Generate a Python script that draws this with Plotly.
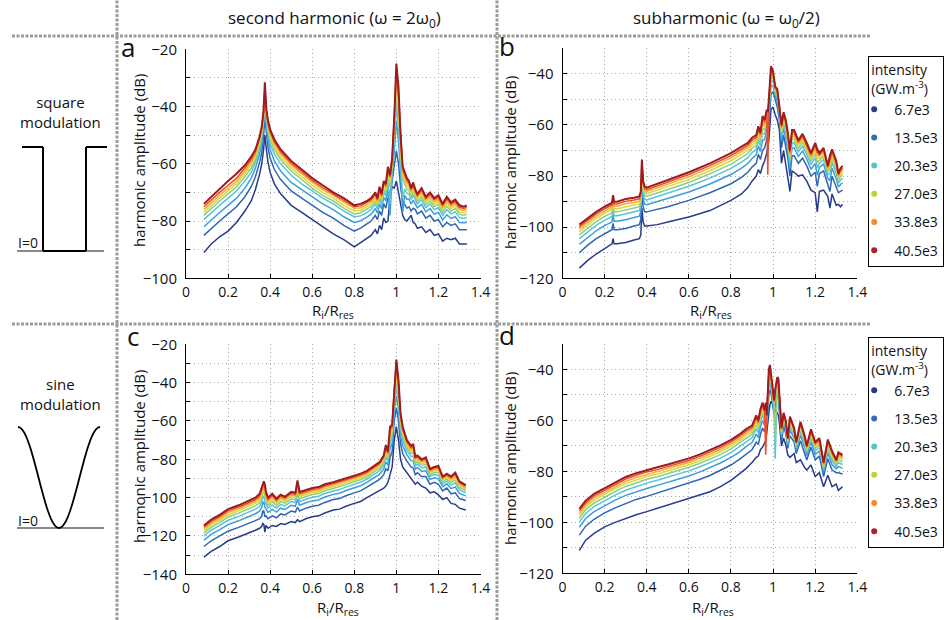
import math
import plotly.graph_objects as go

W, H = 950, 620

# ---------------- data ----------------
LEGEND_LABELS = ["6.7e3", "13.5e3", "20.3e3", "27.0e3", "33.8e3", "40.5e3"]
LEGEND_COLORS = ["#283a8e", "#3a6bb5", "#55c3d0", "#bcd433", "#f48a2c", "#b11f24"]
LINE_COLORS = ["#273b8c", "#2f66b3", "#3b9ddb", "#5cc3d6", "#93cb86",
               "#d3dc3a", "#f8ac2e", "#ec4b27", "#9e1b1f"]

X_TICKS = [0, 0.2, 0.4, 0.6, 0.8, 1.0, 1.2, 1.4]
X_TICK_TEXT = ["0", "0.2", "0.4", "0.6", "0.8", "1", "1.2", "1.4"]
YT_A = [-100, -80, -60, -40, -20]
YT_B = [-120, -100, -80, -60, -40]
YT_C = [-140, -120, -100, -80, -60, -40, -20]
YT_D = [-120, -100, -80, -60, -40]

# panel a : second harmonic, square modulation
A_X = [0.085, 0.12, 0.16, 0.2, 0.24, 0.28, 0.31, 0.33, 0.35, 0.36, 0.368, 0.375, 0.382, 0.39, 0.40,
       0.42, 0.45, 0.5, 0.55, 0.6, 0.65, 0.7, 0.75, 0.8, 0.83, 0.86, 0.88, 0.9, 0.91, 0.92, 0.93,
       0.94, 0.95, 0.96, 0.97, 0.98, 0.99, 1.0, 1.01, 1.02, 1.03, 1.04, 1.05, 1.06, 1.07, 1.08,
       1.09, 1.10, 1.12, 1.14, 1.16, 1.18, 1.2, 1.22, 1.24, 1.26, 1.28, 1.3, 1.32, 1.335]
A1 = [-91, -88, -85.5, -83.5, -80.5, -76.5, -73, -69, -63.5, -60, -55.5, -50, -55, -59.5, -63, -67,
      -70.5, -74.5, -77, -79.5, -82, -84.5, -86.5, -89,
      -87.5, -86, -85, -83, -84.5, -81.5, -83, -79, -80.5, -80, -72, -68, -68.5, -66, -70, -75,
      -78, -79.5, -80, -79, -78, -80.5, -81, -82.5, -82, -84, -83, -85, -84.5, -87, -86, -86.5,
      -86, -88, -88, -88]
A2 = [-85, -82.5, -80, -77.5, -75, -71.5, -68, -64.5, -59.5, -56, -51, -44, -50, -54.5, -58, -62,
      -65.5, -69.5, -72, -74.5, -77, -79, -81.5, -83.5,
      -82.5, -81, -80, -78, -79.5, -76.5, -78, -74, -75.5, -72, -70, -66, -61, -55.5, -60, -68,
      -73, -74.5, -75.5, -75, -76.5, -75.5, -76, -77.5, -76.5, -79, -78, -80, -79.5, -82, -80.5,
      -81.5, -81, -83, -83, -83]
A3 = [-82, -79.5, -77, -74.5, -72, -68.5, -65, -61.5, -56.5, -53, -48, -41.5, -47, -51.5, -55, -59,
      -62.5, -66.5, -69, -71.5, -74, -76, -78.5, -80.5,
      -79.9, -78.6, -77.6, -75.6, -77.3, -74, -75.8, -71.6, -73, -68.7, -78, -63.6, -55.9, -45,
      -51.9, -62.6, -77, -71, -72.4, -72.3, -74.1, -72.8, -73.9, -75.4, -74.1, -76.8, -75.6,
      -77.6, -77, -79.6, -77.8, -79.1, -78.5, -80.5, -80.6, -80.5]
A4 = [-79.5, -77, -74.5, -72, -69.5, -66, -63, -59.5, -54.5, -51, -46, -39.5, -45, -49.5, -53,
      -56.5, -60, -64, -67, -69.5, -72, -74, -76.5, -78.5,
      -78.2, -77, -76, -74, -75.8, -72.3, -74.3, -70, -71.3, -66.5, -74, -62, -52.5, -40, -46.5,
      -59, -72, -68.8, -70.3, -70.5, -72.5, -71, -72.5, -74, -72.5, -75.3, -74, -76, -75.3, -78,
      -76, -77.5, -76.8, -78.8, -79, -78.8]
A5 = [-78, -75.5, -73, -70.5, -68, -64.5, -61.5, -58.5, -53.5, -50, -45, -38, -44, -48.5, -51.5,
      -55, -58.5, -62.5, -65.5, -68.5, -71, -73, -75.5, -77.5,
      -77.1, -76, -75, -73, -74.8, -71.1, -73.3, -69, -70.1, -65.1, -68, -61, -50.3, -37, -43,
      -56.7, -65.4, -67.3, -68.9, -69.3, -71.5, -69.8, -71.6, -73.1, -71.5, -74.3, -73, -75,
      -74.1, -77, -74.8, -76.5, -75.6, -77.6, -78, -77.6]
A6 = [-77, -74.5, -72, -69.5, -67, -63.5, -60.5, -57.5, -52.5, -49, -44, -36.5, -43, -47.5, -50.5,
      -54, -57.5, -61.5, -64.5, -67.5, -70, -72, -74.5, -76.5,
      -76.2, -75.1, -74.1, -72.1, -74, -70.2, -72.5, -68.1, -69.2, -63.9, -66, -60.1, -48.4, -33,
      -40, -54.7, -64.1, -66, -67.7, -68.3, -70.6, -68.8, -70.8, -72.3, -70.6, -73.5, -72.1,
      -74.1, -73.2, -76.1, -73.8, -75.6, -74.7, -76.7, -77.1, -76.7]
A7 = [-76, -73.5, -71, -68.5, -66, -62.5, -59.5, -56.5, -51.5, -48, -43.3, -35, -42.2, -46.5,
      -49.5, -53, -56.5, -60.5, -63.5, -66.5, -69, -71, -73.5, -75.5,
      -75.4, -74.3, -73.3, -71.3, -73.2, -69.4, -71.7, -67.3, -68.4, -62.8, -65, -59.3, -46.7,
      -30, -37.3, -52.9, -62.9, -64.8, -66.7, -67.4, -69.8, -67.9, -70.1, -71.6, -69.8, -72.7,
      -71.3, -73.3, -72.4, -75.3, -72.9, -74.8, -73.9, -75.9, -76.3, -75.9]
A8 = [-75, -72.5, -70, -67.5, -65, -61.5, -58.5, -55.8, -51, -47.5, -42.6, -33.5, -41.5, -45.8,
      -48.8, -52.3, -55.8, -59.8, -62.8, -65.8, -68.3, -70.5, -72.8, -75,
      -74.7, -73.6, -72.6, -70.6, -72.6, -68.7, -71.1, -66.6, -67.7, -61.9, -64.5, -58.6, -45.4,
      -27.5, -35.2, -51.4, -62, -63.9, -65.8, -66.7, -69.1, -67.2, -69.6, -71.1, -69.1, -72.1,
      -70.6, -72.6, -71.7, -74.6, -72.2, -74.1, -73.2, -75.2, -75.6, -75.2]
A9 = [-74, -71.5, -68.5, -66, -63.5, -60.5, -57.5, -55, -50.5, -47, -42, -31.5, -41, -45, -48,
      -51.5, -55, -59, -62, -65, -67.5, -70, -72, -74.5,
      -74, -73, -72, -70, -72, -68, -70.5, -66, -67, -61, -64, -58, -44, -25, -33, -50, -61, -63,
      -65, -66, -68.5, -66.5, -69, -70.5, -68.5, -71.5, -70, -72, -71, -74, -71.5, -73.5, -72.5,
      -74.5, -75, -74.5]

# panel b : subharmonic, square modulation
B_X = [0.08, 0.12, 0.16, 0.2, 0.225, 0.235, 0.24, 0.245, 0.26, 0.3, 0.34, 0.365, 0.372, 0.377,
       0.383, 0.39, 0.4, 0.45, 0.5, 0.6, 0.7, 0.8, 0.85, 0.88, 0.9, 0.92, 0.93, 0.94, 0.95, 0.96,
       0.97, 0.975, 0.98, 0.99, 1.0, 1.01, 1.02, 1.03, 1.04, 1.05, 1.06, 1.07, 1.08, 1.09, 1.1,
       1.12, 1.14, 1.16, 1.18, 1.2, 1.21, 1.22, 1.24, 1.26, 1.27, 1.28, 1.3, 1.31, 1.32, 1.33]
B1 = [-116, -113, -110.5, -108.5, -107, -106.5, -104.5, -106.5, -106.5, -106, -105, -104.5, -103,
      -92.5, -98, -99.5, -99.5, -99, -98, -96, -93.5, -89.5, -87, -84.5, -82, -80, -77.5, -79,
      -76, -74, -71, -69, -66, -54, -53, -56, -58, -62, -75, -70, -76, -80, -86, -78, -78.5, -80,
      -79.5, -82, -85.5, -86.5, -94, -86, -85.5, -88, -92.5, -87, -91.5, -91, -92, -91]
B2 = [-110, -107, -104.5, -102.5, -101.5, -101, -98.5, -101, -101, -100.5, -99.5, -99, -97, -85,
      -92, -94, -94, -93, -92, -89.5, -86.5, -83, -80.5, -78.5, -76.5, -75, -71.5, -73.5, -70,
      -69, -65, -64, -60, -48, -47, -50, -53, -58, -69, -64, -68, -73, -80, -72, -72, -75, -73,
      -76, -80, -78.5, -84, -79, -78, -83, -86, -80, -84, -86.5, -86, -85.5]
B3 = [-106.7, -103.9, -101.4, -99.4, -98.4, -97.9, -95.2, -97.7, -97.7, -97.1, -96.2, -95.7,
      -93.7, -81.6, -89, -91, -91.2, -90, -88.9, -86.2, -83.1, -79.4, -76.9, -75.1, -73.1, -71.7,
      -68.2, -70.4, -66, -65.7, -61.7, -61.3, -57, -44.7, -44.6, -48.5, -50.9, -56.2, -66.3,
      -61.3, -65, -70, -77, -69, -69, -72.3, -70.2, -73.3, -77.3, -75.1, -79.7, -76.6, -75.3,
      -80.9, -81.8, -76.9, -81, -84.3, -83.3, -82.7]
B4 = [-104.5, -101.8, -99.3, -97.3, -96.3, -95.8, -93, -95.5, -95.5, -94.8, -94, -93.5, -91.5,
      -79.3, -87, -89, -89.3, -88, -86.8, -84, -80.8, -77, -74.5, -72.8, -70.8, -69.5, -66, -68.3,
      -63.3, -63.5, -59.5, -59.5, -55, -42.5, -43, -47.5, -49.5, -55, -64.5, -59.5, -63, -68,
      -75, -67, -67, -70.5, -68.3, -71.5, -75.5, -72.8, -76.8, -75, -73.5, -79.5, -79, -74.8,
      -79, -82.8, -81.5, -80.8]
B5 = [-103, -100.3, -97.8, -95.8, -94.8, -94.3, -91.5, -94, -94, -93.1, -92.5, -92, -90, -77.6,
      -85.6, -87.6, -87.9, -86.6, -85.3, -82.5, -79.1, -75.3, -72.8, -71.1, -69.1, -68, -64.5,
      -66.8, -61.4, -62, -58, -58.2, -53.6, -41, -41.9, -46.8, -48.5, -54.2, -63.2, -58.2, -61.6,
      -66.6, -73.6, -65.6, -65.6, -69.2, -66.9, -70.2, -74.2, -71.1, -74.7, -73.9, -72.2, -78.5,
      -77, -73.3, -77.6, -81.7, -80.2, -79.4]
B6 = [-101.8, -99.1, -96.6, -94.6, -93.6, -93.1, -90.3, -92.8, -92.8, -91.9, -91.3, -90.8, -88.8,
      -76.4, -84.5, -86.5, -86.9, -85.5, -84.1, -81.3, -77.9, -74, -71.5, -69.9, -67.9, -66.8,
      -63.3, -65.6, -59.9, -60.8, -56.8, -57.3, -52.5, -39.8, -41, -46.3, -47.8, -53.5, -62.3,
      -57.3, -60.5, -65.5, -72.5, -64.5, -64.5, -68.3, -65.9, -69.3, -73.3, -69.9, -73.1, -73,
      -71.3, -77.8, -75.5, -72.1, -76.5, -80.9, -79.3, -78.4]
B7 = [-100.8, -98.2, -95.7, -93.7, -92.7, -92.2, -89.3, -91.8, -91.8, -90.8, -90.3, -89.8, -87.8,
      -75.3, -83.6, -85.6, -86, -84.6, -83.2, -80.3, -76.8, -72.9, -70.4, -68.8, -66.8, -65.8,
      -62.3, -64.7, -58.7, -59.8, -55.8, -56.4, -51.6, -38.8, -40.3, -45.8, -47.1, -53, -61.4,
      -56.4, -59.6, -64.6, -71.6, -63.6, -63.6, -67.4, -65, -68.4, -72.4, -68.8, -71.8, -72.3,
      -70.4, -77.1, -74.2, -71.2, -75.6, -80.2, -78.4, -77.5]
B8 = [-99.9, -97.3, -94.8, -92.8, -91.8, -91.3, -88.4, -90.9, -90.9, -89.9, -89.4, -88.9, -86.9,
      -74.4, -82.8, -84.8, -85.3, -83.8, -82.3, -79.4, -75.9, -72, -69.5, -67.9, -65.9, -64.9,
      -61.4, -63.8, -57.6, -58.9, -54.9, -79.5, -50.8, -37.9, -39.6, -45.4, -46.6, -52.5, -60.7,
      -55.7, -58.8, -63.8, -70.8, -62.8, -62.8, -66.7, -64.3, -67.7, -71.7, -67.9, -70.7, -71.6,
      -69.7, -76.6, -73.1, -70.3, -74.8, -79.6, -77.7, -76.8]
B9 = [-99, -96.5, -94, -92, -91, -90.5, -87.5, -90, -90, -89, -88.5, -88, -86, -73.5, -82, -84,
      -84.5, -83, -81.5, -78.5, -75, -71, -68.5, -67, -65, -64, -60.5, -63, -56.5, -58, -54, -55,
      -50, -37, -39, -45, -46, -52, -60, -55, -58, -63, -70, -62, -62, -66, -63.5, -67, -71, -67,
      -69.5, -71, -69, -76, -72, -69.5, -74, -79, -77, -76]

# panel c : second harmonic, sine modulation
C_X = [0.085, 0.12, 0.16, 0.2, 0.25, 0.3, 0.33, 0.35, 0.36, 0.365, 0.37, 0.375, 0.38, 0.39, 0.41,
       0.43, 0.45, 0.47, 0.5, 0.52, 0.53, 0.54, 0.57, 0.6, 0.63, 0.66, 0.7, 0.73, 0.76, 0.8, 0.83,
       0.86, 0.9, 0.92, 0.94, 0.95, 0.96, 0.97, 0.98, 0.99, 1.0, 1.01, 1.02, 1.03, 1.05, 1.07,
       1.08, 1.09, 1.1, 1.12, 1.14, 1.16, 1.18, 1.2, 1.22, 1.24, 1.26, 1.28, 1.3, 1.33]
C1 = [-131, -128, -125.5, -122.5, -120.5, -118.5, -117, -116, -115, -113.5, -114, -118, -114.5,
      -116, -114.5, -115, -113.5, -114, -112.5, -113, -111.5, -112.5, -111, -110, -109.5, -108,
      -106.5, -106, -104.5, -103, -102, -100, -97.5, -96.5, -95, -94, -92, -88, -84, -70, -63,
      -70, -80, -84, -87, -90, -91.5, -93, -92, -94, -95, -97.5, -97, -98.5, -101, -100, -103,
      -103.5, -105.5, -106.5]
C2 = [-125.5, -122.5, -120, -117.5, -115.5, -113.5, -112, -111, -109.5, -107, -107, -110, -109.5,
      -111, -109.5, -110.5, -108.5, -109, -107, -107.5, -105, -107, -105.5, -104.5, -104, -102.5,
      -101, -100.5, -99, -97.5, -96.5, -94.5, -92, -90.5, -88, -85, -86, -79, -76, -60, -53, -60,
      -72, -77, -81, -84, -84.5, -88, -87, -89, -89, -93, -92, -93, -96.5, -95, -98, -97.5,
      -100.5, -101.5]
C3 = [-122.2, -119.2, -116.7, -114.1, -112.1, -109.9, -108.4, -107.1, -105, -102.5, -102.4, -104.9,
      -105.8, -107.7, -106.1, -107.5, -105.5, -106.2, -104, -104.5, -100.8, -104, -102.7, -101.7,
      -101.2, -99.7, -98.3, -97.7, -96.3, -94.8, -93.8, -92, -89.3, -87.8, -85, -81.3, -83,
      -74.2, -71.8, -54.6, -47, -53.6, -67.2, -72.8, -77.7, -80.7, -80.8, -85.2, -84.3, -86.3,
      -86, -90.6, -89.6, -90.2, -94.3, -92.8, -95.3, -94.4, -97.8, -99.1]
C4 = [-120, -117, -114.5, -111.8, -109.8, -107.5, -106, -104.5, -102, -99.5, -99.3, -101.5, -103.3,
      -105.5, -103.8, -105.5, -103.5, -104.3, -102, -102.5, -98, -102, -100.8, -99.8, -99.3,
      -97.8, -96.5, -95.8, -94.5, -93, -92, -90.3, -87.5, -86, -83, -78.8, -81, -71, -69, -51,
      -43, -49.3, -64, -70, -75.5, -78.5, -78.3, -83.3, -82.5, -84.5, -84, -89, -88, -88.3,
      -92.8, -91.3, -93.5, -92.3, -96, -97.5]
C5 = [-118.5, -115.5, -113, -110.1, -108.1, -105.8, -104.3, -102.7, -99.9, -97.4, -97.1, -99.1,
      -101.5, -104, -102.1, -104.1, -102.1, -102.9, -100.6, -101.1, -96, -100.6, -99.4, -98.4,
      -97.9, -96.4, -95.2, -94.4, -93.2, -91.7, -90.7, -89.1, -86.2, -84.7, -81.6, -77, -79.6,
      -68.8, -67, -48.5, -40, -46.2, -61.8, -68, -74, -77, -76.5, -81.9, -81.2, -83.2, -82.6,
      -87.9, -86.9, -86.9, -91.7, -90.2, -92.2, -90.8, -94.7, -96.4]
C6 = [-117.3, -114.3, -111.8, -108.9, -106.9, -104.5, -103, -101.3, -98.3, -95.8, -95.4, -97.3,
      -100.1, -102.8, -100.9, -103, -101, -101.9, -99.5, -100, -94.5, -99.5, -98.4, -97.4, -96.9,
      -95.4, -94.3, -93.4, -92.3, -90.8, -89.8, -88.1, -85.3, -83.8, -80.5, -75.6, -78.5, -67,
      -65.5, -46.5, -37, -43.9, -60, -66.5, -72.8, -75.8, -75.1, -80.9, -80.3, -82.3, -81.5, -87,
      -86, -85.9, -90.9, -89.4, -91.3, -89.6, -93.8, -95.5]
C7 = [-116.3, -113.3, -110.8, -107.8, -105.8, -103.4, -101.9, -100.1, -96.9, -94.4, -94, -95.7,
      -99, -101.8, -99.8, -102.1, -100.1, -101, -98.6, -99.1, -93.2, -98.6, -97.5, -96.5, -96,
      -94.5, -93.4, -92.5, -91.4, -89.9, -88.9, -87.4, -84.4, -82.9, -79.6, -74.5, -77.6, -65.6,
      -64.2, -44.9, -34, -41.9, -58.6, -65.2, -71.8, -74.8, -74, -80, -79.4, -81.4, -80.6, -86.3,
      -85.3, -85, -90.2, -88.7, -90.4, -88.7, -92.9, -94.8]
C8 = [-115.4, -112.4, -109.9, -106.9, -104.9, -102.5, -101, -99, -95.7, -93.2, -92.7, -94.4, -98,
      -100.9, -98.9, -101.3, -99.3, -100.3, -97.8, -98.3, -92.1, -97.8, -96.8, -95.8, -95.3,
      -93.8, -92.7, -91.8, -90.7, -89.2, -88.2, -86.7, -83.7, -82.2, -78.8, -73.5, -76.8, -64.3,
      -63.1, -43.4, -31, -40.2, -57.3, -64.1, -70.9, -73.9, -73, -79.3, -78.7, -80.7, -79.8,
      -85.6, -84.6, -84.3, -89.6, -88.1, -89.7, -87.8, -92.2, -94.1]
C9 = [-114.5, -111.5, -109, -106, -104, -101.5, -100, -98, -94.5, -92, -91.5, -93, -97, -100, -98,
      -100.5, -98.5, -99.5, -97, -97.5, -91, -97, -96, -95, -94.5, -93, -92, -91, -90, -88.5,
      -87.5, -86, -83, -81.5, -78, -72.5, -76, -63, -62, -42, -28, -38.5, -56, -63, -70, -73, -72,
      -78.5, -78, -80, -79, -85, -84, -83.5, -89, -87.5, -89, -87, -91.5, -93.5]

# panel d : subharmonic, sine modulation
D_X = [0.08, 0.11, 0.15, 0.2, 0.25, 0.3, 0.35, 0.4, 0.45, 0.5, 0.55, 0.6, 0.65, 0.7, 0.75, 0.8,
       0.84, 0.87, 0.9, 0.92, 0.93, 0.94, 0.95, 0.96, 0.965, 0.97, 0.975, 0.98, 0.985, 0.99, 1.0,
       1.005, 1.01, 1.02, 1.025, 1.03, 1.04, 1.05, 1.06, 1.07, 1.08, 1.1, 1.11, 1.13, 1.15, 1.16,
       1.18, 1.2, 1.22, 1.24, 1.26, 1.28, 1.3, 1.31, 1.33]
D1 = [-111, -107, -104.3, -101.8, -100, -98.4, -97, -95.8, -94.5, -93.2, -91.8, -90.5, -89.3, -88,
      -86, -83.5, -81, -79, -76.5, -74.5, -74, -71.5, -70.5, -68.5, -68, -65, -60, -57, -54, -52.5,
      -54, -56, -56, -57, -58, -61, -70, -67, -69.5, -73.5, -74.5, -73, -76.5, -75.5, -78.5,
      -79.5, -77.5, -82, -80.5, -86, -81.5, -86, -85, -87.5, -86]
D2 = [-105, -101.5, -98.8, -96.3, -94.3, -92.5, -91, -89.8, -88.5, -87.3, -86, -84.7, -83.2,
      -81.6, -79.7, -77.5, -75.3, -73.3, -71.5, -68.5, -69.5, -65.5, -63, -64.5, -62, -63, -56,
      -50, -48, -49, -55, -58, -54, -50, -51, -56, -68, -62.5, -65, -71, -66, -68.5, -73, -68,
      -72.5, -75.5, -70.5, -75.5, -74, -82, -75, -79.5, -80.5, -80.5, -81]
D3 = [-101.9, -98.5, -95.8, -93.4, -91.3, -89.4, -87.9, -86.7, -85.5, -84.3, -83.1, -81.8, -80.3,
      -78.6, -76.7, -74.5, -72.4, -70.4, -68.7, -65.4, -66.7, -62.5, -60, -62, -59.3, -61.5,
      -53.6, -47, -45.1, -46.9, -53.5, -56.2, -52.2, -47.9, -48.8, -54.2, -66.5, -60.9, -63.5,
      -69.8, -63.8, -66.9, -71.7, -65.8, -70.6, -73.9, -68.4, -73.4, -71.9, -80.4, -72.8, -77.3,
      -79, -78.1, -78.8]
D4 = [-99.9, -96.5, -93.8, -91.5, -89.3, -87.4, -85.9, -84.6, -83.5, -82.3, -81.1, -79.8, -78.3,
      -76.7, -74.8, -72.6, -70.4, -68.4, -66.8, -63.3, -64.8, -60.5, -58, -60.3, -57.5, -60.5,
      -52, -45, -43.1, -45.5, -52.5, -55, -75, -46.5, -47.3, -53, -65.5, -59.8, -62.5, -69,
      -62.3, -65.8, -70.8, -64.3, -69.3, -72.8, -67, -72, -70.5, -79.3, -71.3, -75.8, -78, -76.5,
      -77.3]
D5 = [-98.4, -95.1, -92.4, -90.1, -87.9, -85.9, -84.4, -83.1, -82.1, -80.9, -79.7, -78.4, -76.9,
      -75.3, -73.4, -71.2, -69, -67, -65.4, -61.8, -63.4, -59.1, -56.6, -59.1, -56.2, -59.8,
      -50.9, -43.6, -41.7, -44.5, -51.8, -54.2, -68, -45.5, -46.2, -52.2, -64.8, -59, -61.8,
      -68.4, -61.2, -65, -70.1, -63.2, -68.3, -72, -66, -71, -69.5, -78.5, -70.2, -74.7, -77.3,
      -75.4, -76.2]
D6 = [-97.3, -94, -91.3, -89, -86.8, -84.8, -83.3, -82, -81, -79.8, -78.7, -77.4, -75.9, -74.2,
      -72.3, -70.1, -68, -66, -64.4, -60.6, -62.4, -58, -55.5, -58.1, -55.3, -59.3, -50, -42.5,
      -40.7, -43.8, -51.3, -53.5, -49.5, -44.8, -45.4, -51.5, -64.3, -58.4, -61.3, -68, -60.4,
      -64.4, -69.6, -62.4, -67.6, -71.4, -65.3, -70.3, -68.8, -77.9, -69.4, -73.9, -76.8, -74.5,
      -75.4]
D7 = [-96.4, -93.1, -90.4, -88.2, -85.9, -83.9, -82.4, -81.1, -80.1, -78.9, -77.8, -76.5, -75,
      -73.3, -71.4, -69.2, -67.1, -65.1, -63.5, -59.7, -61.5, -57.1, -54.6, -57.4, -54.4, -58.8,
      -49.3, -41.6, -39.8, -43.1, -50.8, -53, -49, -44.1, -44.7, -51, -63.8, -57.9, -60.8, -67.6,
      -59.7, -63.9, -69.2, -61.7, -67, -70.9, -64.6, -69.6, -68.1, -77.4, -68.7, -73.2, -76.3,
      -73.8, -74.7]
D8 = [-95.5, -92.3, -89.6, -87.4, -85.1, -83, -81.5, -80.2, -79.3, -78.1, -77, -75.7, -74.2,
      -72.5, -70.6, -68.4, -66.3, -64.3, -62.8, -58.8, -60.8, -56.3, -53.8, -56.7, -73.5, -58.4,
      -48.6, -40.8, -39, -42.6, -50.4, -52.5, -48.5, -43.6, -44.1, -50.5, -63.4, -57.4, -60.4,
      -67.3, -59.1, -63.4, -68.9, -61.1, -66.5, -70.4, -64.1, -69.1, -67.6, -76.9, -68.1, -72.6,
      -75.9, -73.1, -74.1]
D9 = [-94.7, -91.5, -88.8, -86.6, -84.2, -82.2, -80.7, -79.4, -78.4, -77.3, -76.2, -74.9, -73.4,
      -71.7, -69.8, -67.6, -65.5, -63.5, -62, -58, -60, -55.5, -53, -56, -53, -58, -48, -40, -38.2,
      -42, -50, -52, -48, -43, -43.5, -50, -63, -57, -60, -67, -58.5, -63, -68.5, -60.5, -66,
      -70, -63.5, -68.5, -67, -76.5, -67.5, -72, -75.5, -72.5, -73.5]

PANELS = [
    ("x", "y", A_X, [A1, A2, A3, A4, A5, A6, A7, A8, A9]),
    ("x2", "y2", B_X, [B1, B2, B3, B4, B5, B6, B7, B8, B9]),
    ("x3", "y3", C_X, [C1, C2, C3, C4, C5, C6, C7, C8, C9]),
    ("x4", "y4", D_X, [D1, D2, D3, D4, D5, D6, D7, D8, D9]),
]

# ---------------- figure ----------------
def px(x):
    return x / W


def py(y):
    return 1 - y / H


FONT = "Open Sans"
TXT = "#111"
GRID = "#a9a9a9"
GRID_DASH = "1px,3px"
fig = go.Figure()

for xa, ya, xs, series in PANELS:
    for i, ys in enumerate(series):
        assert len(ys) == len(xs), (xa, i, len(ys), len(xs))
        fig.add_trace(go.Scatter(
            x=xs, y=ys, mode="lines", xaxis=xa, yaxis=ya, showlegend=False,
            line=dict(color=LINE_COLORS[i], width=2.0 if i == 8 else 1.5),
            hoverinfo="skip"))

for lg, xa, ya in (("legend", "x2", "y2"), ("legend2", "x4", "y4")):
    for i, (lab, col) in enumerate(zip(LEGEND_LABELS, LEGEND_COLORS)):
        fig.add_trace(go.Scatter(
            x=[None], y=[None], mode="markers", xaxis=xa, yaxis=ya,
            marker=dict(color=col, size=6), name=lab, legend=lg,
            legendgroup=f"{lg}_{i}", showlegend=True))


def minus(v):
    return str(v).replace("-", "\u2212")


def xaxis(dom, anchor):
    return dict(
        domain=dom, anchor=anchor, range=[0, 1.4], tickmode="array",
        tickvals=X_TICKS, ticktext=X_TICK_TEXT,
        showline=True, linecolor="black", linewidth=1, mirror=False,
        ticks="inside", ticklen=4, tickcolor="black", zeroline=False,
        showgrid=True, gridcolor=GRID, griddash=GRID_DASH, gridwidth=1,
        tickfont=dict(size=14, family=FONT, color=TXT), ticklabelstandoff=1,
        automargin=False, fixedrange=True)


def yaxis(dom, anchor, rng, ticks):
    minor_vals = [t + 10 for t in ticks if t + 10 < rng[1] + 0.1]
    return dict(
        domain=dom, anchor=anchor, range=rng, tickmode="array",
        tickvals=ticks, ticktext=[minus(t) for t in ticks],
        showline=True, linecolor="black", linewidth=1, mirror=False,
        ticks="inside", ticklen=4, tickcolor="black", zeroline=False,
        showgrid=True, gridcolor=GRID, griddash=GRID_DASH, gridwidth=1,
        minor=dict(tickmode="array", tickvals=minor_vals, ticks="inside", ticklen=4,
                   tickcolor="black", showgrid=True, gridcolor=GRID,
                   griddash=GRID_DASH, gridwidth=1),
        tickfont=dict(size=15, family=FONT, color=TXT), ticklabelstandoff=5,
        automargin=False, fixedrange=True)


XA = [px(186), px(480.5)]
XB = [px(562.5), px(857.3)]
fig.update_layout(
    xaxis=xaxis(XA, "y"),
    yaxis=yaxis([py(278.3), py(49.3)], "x", [-100, -20], YT_A),
    xaxis2=xaxis(XB, "y2"),
    yaxis2=yaxis([py(278.3), py(48.3)], "x2", [-120, -30], YT_B),
    xaxis3=xaxis(XA, "y3"),
    yaxis3=yaxis([py(574.3), py(344.3)], "x3", [-140, -20], YT_C),
    xaxis4=xaxis(XB, "y4"),
    yaxis4=yaxis([py(573.3), py(344)], "x4", [-120, -30], YT_D),
)

legend_common = dict(
    xanchor="left", yanchor="top", bordercolor="black", borderwidth=1.2,
    bgcolor="white", font=dict(size=14, family=FONT, color=TXT),
    title=dict(text="intensity<br>(GW.m<sup>-3</sup>)", font=dict(size=14, family=FONT, color=TXT)),
    tracegroupgap=7, itemwidth=30, indentation=-15)
fig.update_layout(
    legend=dict(x=px(868), y=py(56), **legend_common),
    legend2=dict(x=px(868), y=py(337), **legend_common),
)

# separators
SEP = dict(color="#9c9c9c", width=3, dash="3px,1.5px")
shapes = [
    dict(type="line", xref="paper", yref="paper", x0=px(12), x1=px(870), y0=py(36), y1=py(36), line=SEP),
    dict(type="line", xref="paper", yref="paper", x0=px(12), x1=px(870), y0=py(324), y1=py(324), line=SEP),
    dict(type="line", xref="paper", yref="paper", x0=px(117), x1=px(117), y0=0, y1=1, line=SEP),
    dict(type="line", xref="paper", yref="paper", x0=px(497), x1=px(497), y0=0, y1=1, line=SEP),
]
# square modulation sketch
BLK = dict(color="black", width=2)
GRY = dict(color="#8a8a8a", width=2)
shapes.append(dict(type="line", xref="paper", yref="paper", x0=px(17), x1=px(104),
                   y0=py(251), y1=py(251), line=GRY))
sq = [(22, 147), (43, 147), (43, 251), (86, 251), (86, 147), (107, 147)]
for (x0, y0), (x1, y1) in zip(sq[:-1], sq[1:]):
    shapes.append(dict(type="line", xref="paper", yref="paper", x0=px(x0), x1=px(x1),
                       y0=py(y0), y1=py(y1), line=BLK))
# sine modulation sketch
shapes.append(dict(type="line", xref="paper", yref="paper", x0=px(17), x1=px(104),
                   y0=py(528), y1=py(528), line=GRY))
pts = []
for k in range(61):
    t = k / 60
    xx = 18 + 82 * t
    yy = 477.5 - 50.5 * math.cos(2 * math.pi * t)
    pts.append(f"{px(xx):.5f},{py(yy):.5f}")
shapes.append(dict(type="path", xref="paper", yref="paper",
                   path="M" + " L".join(pts), line=dict(color="black", width=1.8)))
fig.update_layout(shapes=shapes)


def ann(text, x, y, size, xanchor="center", yanchor="middle", angle=0):
    return dict(text=text, x=px(x), y=py(y), xref="paper", yref="paper", showarrow=False,
                xanchor=xanchor, yanchor=yanchor, textangle=angle,
                font=dict(size=size, family=FONT, color=TXT))


XTITLE = "R<sub>i</sub>/R<sub>res</sub>"
YTITLE = "harmonic amplitude (dB)"
anns = [
    ann("second harmonic (\u03c9 = 2\u03c9<sub>0</sub>)", 334, 18, 17),
    ann("subharmonic (\u03c9 = \u03c9<sub>0</sub>/2)", 726, 18, 17),
    ann("a", 128, 47, 26), ann("b", 507, 46, 26),
    ann("c", 133, 336, 26), ann("d", 507, 335, 26),
    ann("square<br>modulation", 60, 112, 15),
    ann("sine<br>modulation", 61, 394, 15),
    ann("I=0", 16, 242, 14, xanchor="left"),
    ann("I=0", 16, 520, 14, xanchor="left"),
    ann(XTITLE, 333, 311, 15), ann(XTITLE, 711, 311, 15),
    ann(XTITLE, 338, 608, 15), ann(XTITLE, 713, 608, 15),
    ann(YTITLE, 139, 161, 15, angle=-90), ann(YTITLE, 510, 163, 15, angle=-90),
    ann(YTITLE, 139, 457, 15, angle=-90), ann(YTITLE, 510, 459, 15, angle=-90),
]
fig.update_layout(annotations=anns)

fig.update_layout(
    width=W, height=H, margin=dict(l=0, r=0, t=0, b=0, autoexpand=False),
    paper_bgcolor="white", plot_bgcolor="white", hovermode=False,
    font=dict(family=FONT, size=14, color=TXT), showlegend=True)

fig.write_html("out.html", config={"displayModeBar": False},
               post_script="document.body.style.margin='0px';"
                           "document.body.style.padding='0px';")
